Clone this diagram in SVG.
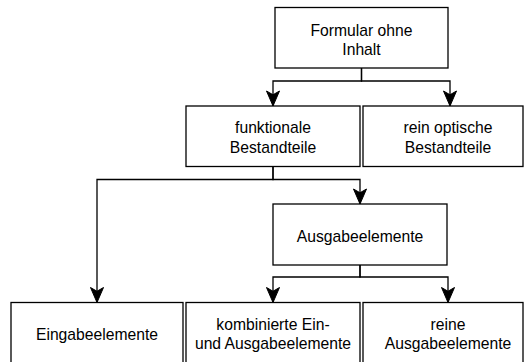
<svg xmlns="http://www.w3.org/2000/svg" width="525" height="362" viewBox="0 0 525 362">
  <style>
    .box { fill: #ffffff; stroke: #000000; stroke-width: 1.3; }
    .lbl { font-family: "Liberation Sans", Arial, Helvetica, sans-serif; font-size: 15.7px; fill: #000000; text-anchor: middle; }
    .edge { fill: none; stroke: #000000; stroke-width: 1.3; marker-end: url(#arrow); }
  </style>
  <defs>
    <marker id="arrow" markerUnits="userSpaceOnUse" markerWidth="15" markerHeight="13" refX="15" refY="6.5" orient="auto" overflow="visible">
      <path d="M0,0 L15,6.5 L0,13 L3.75,6.5 Z" fill="#000000" stroke="#000000" stroke-width="1"/>
    </marker>
  </defs>
  <rect x="0" y="0" width="525" height="362" fill="#ffffff"/>

  <g id="connectors">
    <path class="edge" d="M361.5,68 V81 H273 V106"/>
    <path class="edge" d="M361.5,68 V81 H450 V106"/>
    <path class="edge" d="M273,166.5 V179.5 H97 V302.5"/>
    <path class="edge" d="M273,166.5 V179.5 H360 V204"/>
    <path class="edge" d="M360,265 V277 H273 V302.5"/>
    <path class="edge" d="M360,265 V277 H448 V302.5"/>
  </g>

  <g id="formular">
    <rect class="box" x="275" y="7.5" width="173" height="60.5"/>
    <text class="lbl" x="361.5" y="35.5">Formular ohne</text>
    <text class="lbl" x="361.5" y="54.8">Inhalt</text>
  </g>

  <g id="funktionale">
    <rect class="box" x="186" y="106" width="174" height="60.5"/>
    <text class="lbl" x="273" y="133.4">funktionale</text>
    <text class="lbl" x="273" y="152.7">Bestandteile</text>
  </g>

  <g id="optische">
    <rect class="box" x="363" y="106" width="160" height="60.5"/>
    <text class="lbl" x="448" y="133.4">rein optische</text>
    <text class="lbl" x="448" y="152.7">Bestandteile</text>
  </g>

  <g id="ausgabe">
    <rect class="box" x="273" y="204" width="174" height="61"/>
    <text class="lbl" x="360" y="241.5">Ausgabeelemente</text>
  </g>

  <g id="eingabe">
    <rect class="box" x="11" y="302.5" width="172" height="61"/>
    <text class="lbl" x="97" y="339.5">Eingabeelemente</text>
  </g>

  <g id="kombinierte">
    <rect class="box" x="186" y="302.5" width="174" height="61"/>
    <text class="lbl" x="273" y="330">kombinierte Ein-</text>
    <text class="lbl" x="273" y="349.4">und Ausgabeelemente</text>
  </g>

  <g id="reine">
    <rect class="box" x="363" y="302.5" width="160" height="61"/>
    <text class="lbl" x="448" y="330">reine</text>
    <text class="lbl" x="448" y="349.4">Ausgabeelemente</text>
  </g>
</svg>
